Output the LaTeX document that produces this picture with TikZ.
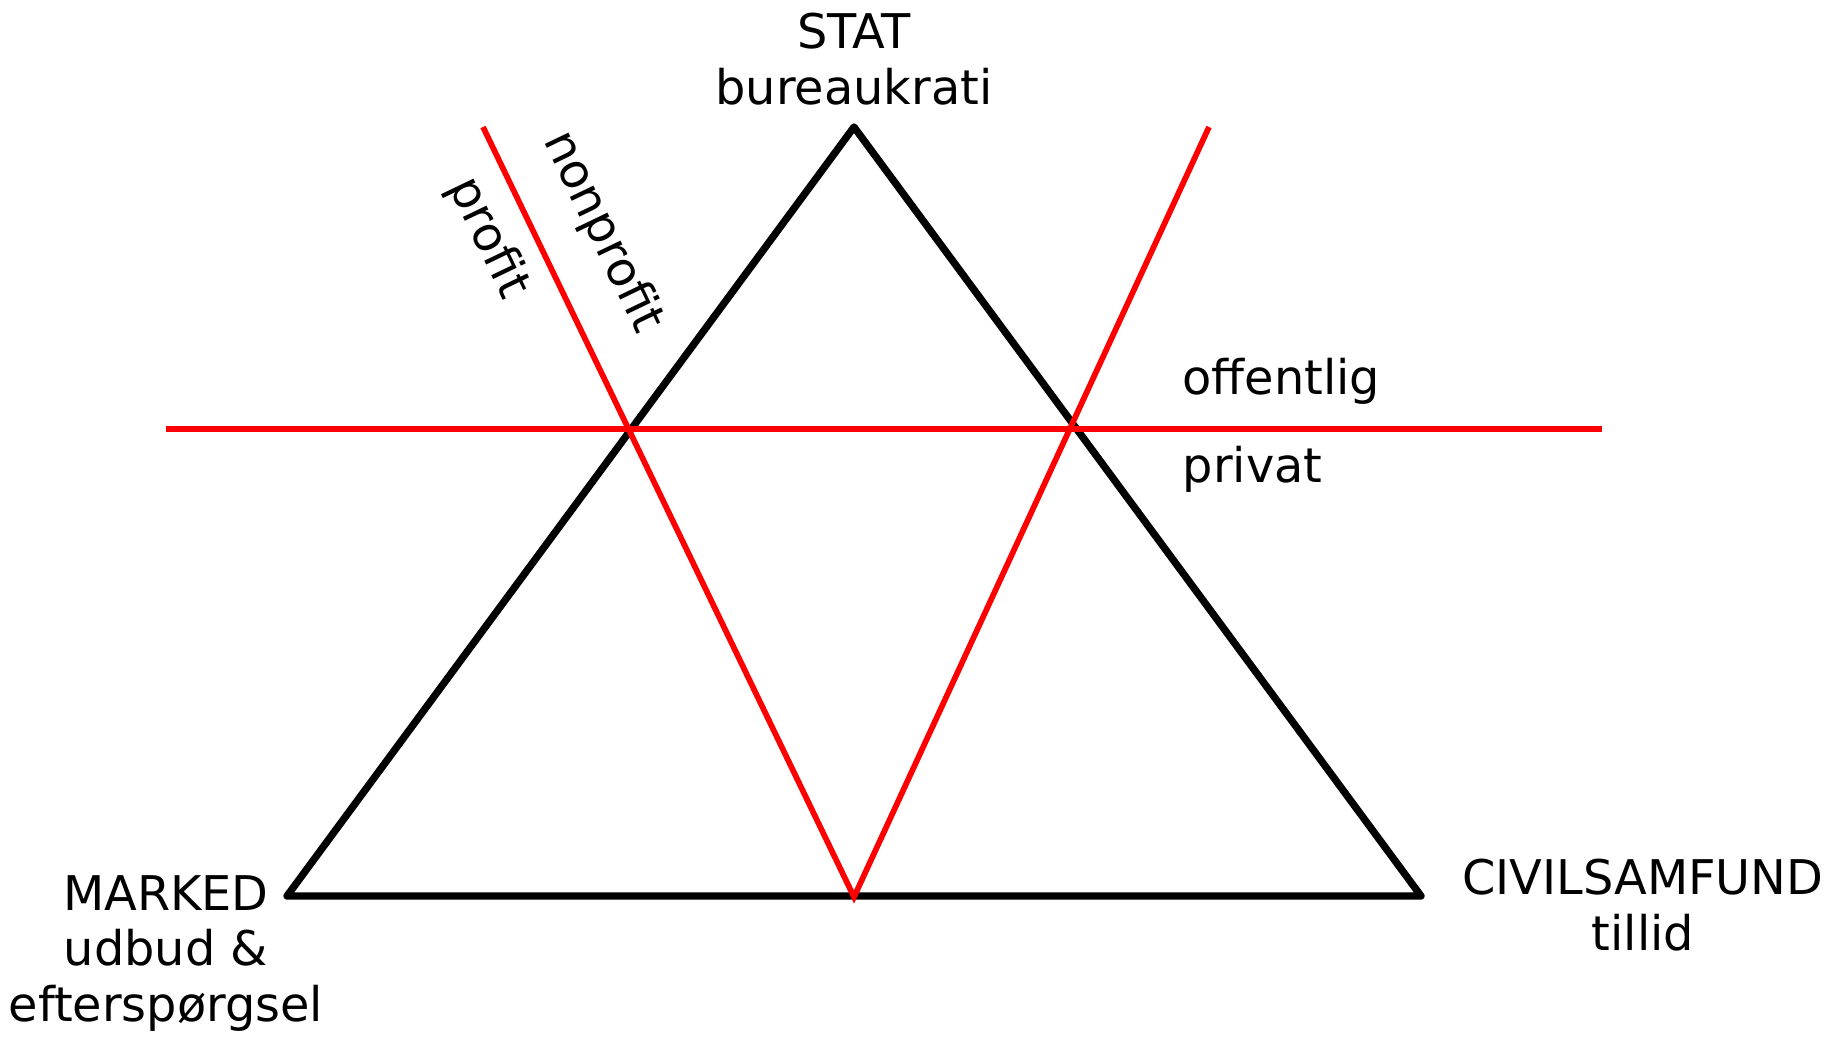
\documentclass[tikz,border=0pt]{standalone}
\usepackage{fontspec}
\setmainfont{DejaVu Sans}
\begin{document}
\begin{tikzpicture}
    % --- makroer ------------------------------------------------------
    \def\skel{0.073}
    \def\deling{0.057}
    \def\vinkel{-64.3}
    \tikzset{
        trekant/.style={draw=black, line width=\skel cm, line join=round, line cap=round},
        skille/.style={draw=red, line width=\deling cm},
        tekst/.style={font=\fontsize{13.6}{15.9}\selectfont, align=center, inner sep=0pt},
    }
    \useasboundingbox (0,0) rectangle (18.42,10.36);
    % --- hjoerner -----------------------------------------------------
    \coordinate (stat) at (8.54,9.09);
    \coordinate (marked) at (2.87,1.40);
    \coordinate (civil) at (14.21,1.40);
    \draw[trekant] (stat) -- (marked) -- (civil) -- cycle;
    % --- skillelinjer -------------------------------------------------
    \coordinate (vtop) at (4.83,9.09);
    \coordinate (htop) at (12.09,9.09);
    \coordinate (bund) at (8.54,1.39);
    \coordinate (venstre) at (1.66,6.07);
    \coordinate (hoejre) at (16.02,6.07);
    \draw[skille] (vtop) -- (bund) -- (htop);
    \draw[skille] (venstre) -- (hoejre);
    % --- etiketter ----------------------------------------------------
    \node[tekst] (statlbl) at (8.54,9.765) {STAT\\bureaukrati};
    \node[tekst] (markedlbl) at (1.66,0.825) {MARKED\\udbud \&\\efterspørgsel};
    \node[tekst] (civillbl) at (16.43,1.31) {CIVILSAMFUND\\tillid};
    \node[tekst, rotate=\vinkel] (nonprofit) at (6.02,8.04) {nonprofit};
    \node[tekst, rotate=\vinkel] (profit) at (4.88,7.98) {profit};
    \node[tekst, anchor=base west] (offentlig) at (11.82,6.41) {offentlig};
    \node[tekst, anchor=base west] (privat) at (11.82,5.53) {privat};
\end{tikzpicture}
\end{document}
